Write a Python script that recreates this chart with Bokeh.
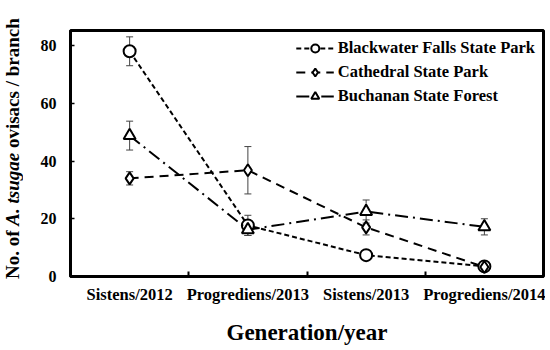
from bokeh.plotting import figure
from bokeh.layouts import row
from bokeh.models import (Range1d, FixedTicker, Whisker, ColumnDataSource, Legend, LegendItem, TeeHead, Div)
from bokeh.embed import file_html
from bokeh.resources import INLINE

categories = ["Sistens/2012", "Progrediens/2013", "Sistens/2013", "Progrediens/2014"]
series_names = ["Blackwater Falls State Park", "Cathedral State Park", "Buchanan State Forest"]
blackwater = [78.0, 17.7, 7.4, 3.5]
blackwater_err = [5.0, 3.5, 1.0, 0.8]
cathedral = [34.0, 36.8, 17.0, 3.3]
cathedral_err = [2.3, 8.2, 2.6, 0.6]
buchanan = [48.8, 16.2, 22.5, 17.2]
buchanan_err = [5.0, 2.0, 4.0, 2.8]

FONT = "Liberation Serif"
xs = [i + 0.5 for i in range(len(categories))]

W, H = 545, 348
DW = 26
p = figure(width=W - DW, height=H, output_backend="svg", toolbar_location=None,
           x_range=Range1d(0, 4), y_range=Range1d(0, 85.2),
           min_border_left=70 - DW, min_border_right=W - 543, min_border_top=30, min_border_bottom=H - 276,
           margin=(0, 0, 0, 0))
p.grid.visible = False
p.outline_line_color = "black"
p.outline_line_width = 3
p.background_fill_color = "white"
p.border_fill_color = "white"

# x axis
p.xaxis.ticker = FixedTicker(ticks=xs, minor_ticks=[1, 2, 3])
p.xaxis.major_label_overrides = {x: c for x, c in zip(xs, categories)}
p.xaxis.major_tick_line_color = None
p.xaxis.major_tick_in = 0
p.xaxis.major_tick_out = 0
p.xaxis.minor_tick_in = 5
p.xaxis.minor_tick_out = 0
p.xaxis.minor_tick_line_width = 2
p.xaxis.minor_tick_line_color = "black"
p.xaxis.axis_line_width = 3
p.xaxis.major_label_text_font = FONT
p.xaxis.major_label_text_font_style = "bold"
p.xaxis.major_label_text_font_size = "16.5px"
p.xaxis.major_label_text_color = "black"
p.xaxis.major_label_standoff = 8
p.xaxis.axis_label = "Generation/year"
p.xaxis.axis_label_text_font = FONT
p.xaxis.axis_label_text_font_style = "bold"
p.xaxis.axis_label_text_font_size = "23px"
p.xaxis.axis_label_text_color = "black"
p.xaxis.axis_label_standoff = 13

# y axis
p.yaxis.ticker = FixedTicker(ticks=[0, 20, 40, 60, 80], minor_ticks=[])
p.yaxis.major_tick_in = 4
p.yaxis.major_tick_out = 0
p.yaxis.major_tick_line_width = 1.5
p.yaxis.axis_line_width = 3
p.yaxis.major_label_text_font = FONT
p.yaxis.major_label_text_font_style = "bold"
p.yaxis.major_label_text_font_size = "16px"
p.yaxis.major_label_text_color = "black"
p.yaxis.major_label_standoff = 14

styles = [
    dict(vals=blackwater, err=blackwater_err, dash="5 3", marker="circle", size=12),
    dict(vals=cathedral, err=cathedral_err, dash="9 6", marker="diamond", size=12),
    dict(vals=buchanan, err=buchanan_err, dash="13 5 2 5", marker="triangle", size=12),
]

items = []
for name, st in zip(series_names, styles):
    src = ColumnDataSource(dict(x=xs, y=st["vals"],
                                lo=[v - e for v, e in zip(st["vals"], st["err"])],
                                hi=[v + e for v, e in zip(st["vals"], st["err"])]))
    w = Whisker(source=src, base="x", lower="lo", upper="hi", line_color="#444444", line_width=1,
                lower_head=TeeHead(size=7, line_color="#444444", line_width=1),
                upper_head=TeeHead(size=7, line_color="#444444", line_width=1))
    p.add_layout(w)
    r1 = p.line("x", "y", source=src, line_color="black", line_width=2, line_dash=st["dash"])
    r2 = p.scatter("x", "y", source=src, marker=st["marker"], size=st["size"],
                   fill_color="white", line_color="black", line_width=2)
    items.append(LegendItem(label=name, renderers=[r1, r2]))

legend = Legend(items=items, location="top_right", border_line_color=None,
                background_fill_alpha=0, label_text_font=FONT, label_text_font_style="bold",
                label_text_font_size="16.5px", label_text_color="black", glyph_width=38,
                label_standoff=4, spacing=4, margin=8, padding=2, label_height=20, glyph_height=20)
p.add_layout(legend)

# y axis label (mixed roman / italic) as rotated HTML text
ylabel_html = (
    '<div style="position:absolute; left:0px; top:10px; width:26px; height:278px; '
    'writing-mode:vertical-rl; transform:rotate(180deg); text-align:center; '
    "font-family:'Liberation Serif'; font-weight:bold; font-size:19px; line-height:26px; "
    'color:black; white-space:nowrap;">No. of <i>A. tsugae</i> ovisacs / branch</div>'
)
ylab = Div(text=ylabel_html, width=DW, height=H, margin=(0, 0, 0, 0),
           styles={"position": "relative", "overflow": "visible"})

layout = row(ylab, p, spacing=0)
open("out.html", "w").write(file_html(layout, INLINE))
